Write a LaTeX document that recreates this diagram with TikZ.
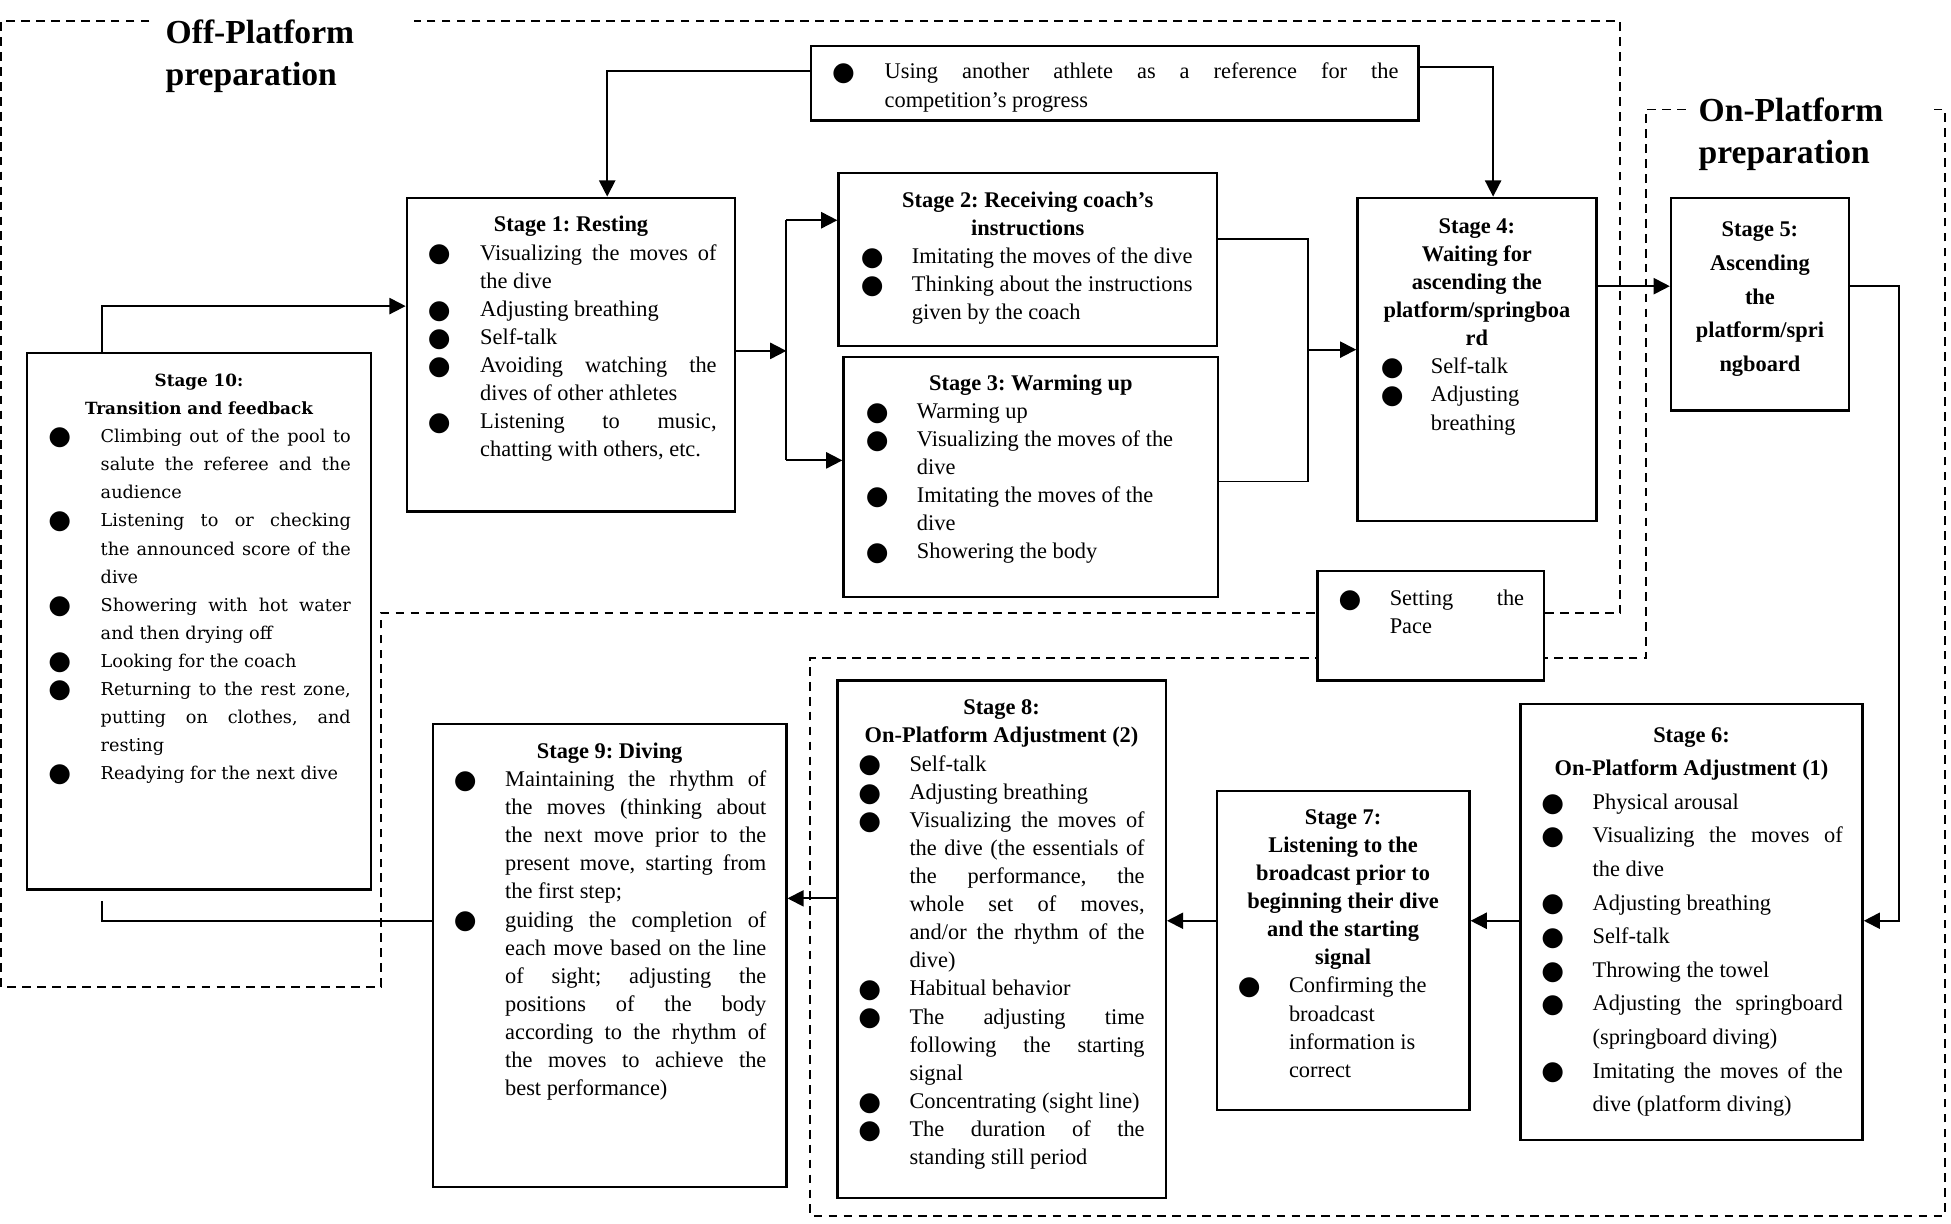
\documentclass[tikz,border=0pt]{standalone}
\usepackage{fontspec}
\setmainfont{Liberation Serif}
\newfontfamily\dvs{DejaVu Serif}
\newfontfamily\symf{DejaVu Sans}
\usetikzlibrary{arrows.meta}
\frenchspacing
\newlength\bpos
\newlength\tind
\newcommand\bul{\raisebox{-1.5pt}{\symf\fontsize{21pt}{21pt}\selectfont ●}}
\newcommand\bitem{\par\noindent\hangindent=\tind\hangafter=1\hbox to\tind{\hskip\bpos\makebox[0pt]{\bul}\hfil}\ignorespaces}
\newcommand\setb[3]{\setlength\bpos{#1pt}\setlength\tind{#2pt}\setlength\rightskip{#3pt}}
\newcommand\stg[4]{\parbox[c][#2pt][t]{#1pt}{\fontsize{18pt}{#3pt}\selectfont\sloppy\frenchspacing #4}}
\begin{document}
\begin{tikzpicture}[x=1pt,y=-1pt,
  box/.style={draw,line width=1.9pt,fill=white,inner sep=0pt,anchor=north west},
  conn/.style={line width=1.5pt},
  arr/.style={conn,-{Triangle[length=13pt,width=13pt]}},
  zone/.style={line width=1.5pt,dash pattern=on 7pt off 5pt},
  title/.style={anchor=north west,inner sep=0pt,align=left,font=\fontsize{27pt}{34pt}\selectfont\bfseries}]
\fill[white] (0,0) rectangle (1568,983);
\useasboundingbox (0,0) rectangle (1568,983);
% zones
\draw[zone] (120,17) -- (1,17) -- (1,793) -- (306,793) -- (306,493) -- (1302,493) -- (1302,17) -- (333,17);
\draw[zone] (1355,88) -- (1323,88) -- (1323,529) -- (651,529) -- (651,977) -- (1563,977) -- (1563,88) -- (1553,88);
\node[title] (offt) at (133,15.5) {Off-Platform\\preparation};
\node[title] (ont) at (1365,78.5) {On-Platform\\preparation};
% boxes
\node[box] (ref) at (651,36) {\stg{488}{60}{22.6}{\setb{26}{59}{16}%
\bitem\rule{0pt}{26.5pt}Using another athlete as a reference for the\linebreak competition’s progress}};
\node[box] (s1) at (326,158) {\stg{264}{252}{22.6}{\setb{26}{59}{15}%
{\centering\bfseries\rule{0pt}{27.5pt}Stage 1: Resting\par}%
\bitem Visualizing the moves of\linebreak the dive
\bitem Adjusting breathing
\bitem Self-talk
\bitem Avoiding watching the\linebreak dives of other athletes
\bitem Listening to music,\linebreak chatting with others, etc.}};
\node[box] (s2) at (673,138) {\stg{304}{139}{22.6}{\setb{27}{59}{8}%
{\centering\bfseries\rule{0pt}{27.5pt}Stage 2: Receiving coach’s\\instructions\par}%
\bitem Imitating the moves of the dive
\bitem Thinking about the instructions\\given by the coach}};
\node[box] (s3) at (677,286) {\stg{301}{193}{22.6}{\setb{27}{59}{8}%
{\centering\bfseries\rule{0pt}{26.5pt}Stage 3: Warming up\par}%
\bitem Warming up
\bitem Visualizing the moves of the\\dive
\bitem Imitating the moves of the\\dive
\bitem Showering the body}};
\node[box] (s4) at (1090,158) {\stg{192}{260}{22.6}{\setb{28}{59}{8}%
{\centering\bfseries\rule{0pt}{28.5pt}Stage 4:\\Waiting for\\ascending the\\platform/springboa\\rd\par}%
\bitem Self-talk
\bitem Adjusting\\breathing}};
\node[box] (s5) at (1342,158) {\stg{143}{171}{27}{%
{\centering\bfseries\rule{0pt}{31.5pt}Stage 5:\\Ascending\\the\\platform/spri\\ngboard\par}}};
\node[box] (pace) at (1058,458) {\stg{182}{88}{22.6}{\setb{26}{58}{16}%
\bitem\rule{0pt}{27.5pt}Setting the\linebreak Pace}};
\node[box] (s6) at (1221,565) {\stg{275}{350}{27}{\setb{26}{58}{16}%
{\centering\bfseries\rule{0pt}{30.5pt}Stage 6:\\On-Platform Adjustment (1)\par}%
\bitem Physical arousal
\bitem Visualizing the moves of\linebreak the dive
\bitem Adjusting breathing
\bitem Self-talk
\bitem Throwing the towel
\bitem Adjusting the springboard\linebreak (springboard diving)
\bitem Imitating the moves of the\linebreak dive (platform diving)}};
\node[box] (s7) at (977,635) {\stg{203}{256}{22.6}{\setb{26}{58}{8}%
{\centering\bfseries\rule{0pt}{26.5pt}Stage 7:\\Listening to the\\broadcast prior to\\beginning their dive\\and the starting\\signal\par}%
\bitem Confirming the\\broadcast\\information is\\correct}};
\node[box] (s8) at (672,546) {\stg{264}{416}{22.6}{\setb{26}{58}{17}%
{\centering\bfseries\rule{0pt}{27.5pt}Stage 8:\\On-Platform Adjustment (2)\par}%
\bitem Self-talk
\bitem Adjusting breathing
\bitem Visualizing the moves of\linebreak the dive (the essentials of\linebreak the performance, the\linebreak whole set of moves,\linebreak and/or the rhythm of the\linebreak dive)
\bitem Habitual behavior
\bitem The adjusting time\linebreak following the starting\linebreak signal
\bitem Concentrating (sight line)
\bitem The duration of the\linebreak standing still period}};
\node[box] (s9) at (347,581) {\stg{284}{372}{22.6}{\setb{26}{58}{16}%
{\centering\bfseries\rule{0pt}{27.5pt}Stage 9: Diving\par}%
\bitem Maintaining the rhythm of\linebreak the moves (thinking about\linebreak the next move prior to the\linebreak present move, starting from\linebreak the first step;
\bitem guiding the completion of\linebreak each move based on the line\linebreak of sight; adjusting the\linebreak positions of the body\linebreak according to the rhythm of\linebreak the moves to achieve the\linebreak best performance)}};
\node[box] (s10) at (21,283) {\stg{276}{431}{22.6}{\setb{26}{59}{16}\dvs\fontsize{14.2pt}{22.6pt}\selectfont
{\centering\bfseries\fontsize{13.5pt}{22.6pt}\selectfont\rule{0pt}{26.5pt}Stage 10:\\Transition and feedback\par}%
\bitem Climbing out of the pool to\linebreak salute the referee and the\linebreak audience
\bitem Listening to or checking\linebreak the announced score of the\linebreak dive
\bitem Showering with hot water\linebreak and then drying off
\bitem Looking for the coach
\bitem Returning to the rest zone,\linebreak putting on clothes, and\linebreak resting
\bitem Readying for the next dive}};
% connectors
\coordinate (r1) at (488,57);
\draw[arr] (ref.west |- r1) -| (s1.north -| r1);
\coordinate (r4) at (1200,54);
\draw[arr] (ref.east |- r4) -| (s4.north -| r4);
\coordinate (c101) at (82,246);
\draw[arr] (s10.north -| c101) |- (s1.west |- c101);
\coordinate (sp1) at (632,282);
\coordinate (sp2) at (632,177);
\coordinate (sp3) at (632,370);
\draw[arr] (s1.east |- sp1) -- (sp1);
\draw[conn] (sp2) -- (sp3);
\draw[arr] (sp2) -- (s2.west |- sp2);
\draw[arr] (sp3) -- (s3.west |- sp3);
\coordinate (m2) at (1051,192);
\coordinate (m3) at (1051,387);
\coordinate (m4) at (1051,281);
\draw[conn] (s2.east |- m2) -- (m2) -- (m3) -- (s3.east |- m3);
\draw[arr] (m4) -- (s4.west |- m4);
\coordinate (c45) at (1300,230);
\draw[arr] (s4.east |- c45) -- (s5.west |- c45);
\coordinate (c56a) at (1526,230);
\coordinate (c56b) at (1526,740);
\draw[arr] (s5.east |- c56a) -- (c56a) -- (c56b) -- (s6.east |- c56b);
\coordinate (lw) at (0,740);
\draw[arr] (s6.west |- lw) -- (s7.east |- lw);
\draw[arr] (s7.west |- lw) -- (s8.east |- lw);
\coordinate (c89) at (0,722);
\draw[arr] (s8.west |- c89) -- (s9.east |- c89);
\coordinate (c910) at (82,724);
\draw[conn] (s9.west |- lw) -| (c910);
\end{tikzpicture}
\end{document}
